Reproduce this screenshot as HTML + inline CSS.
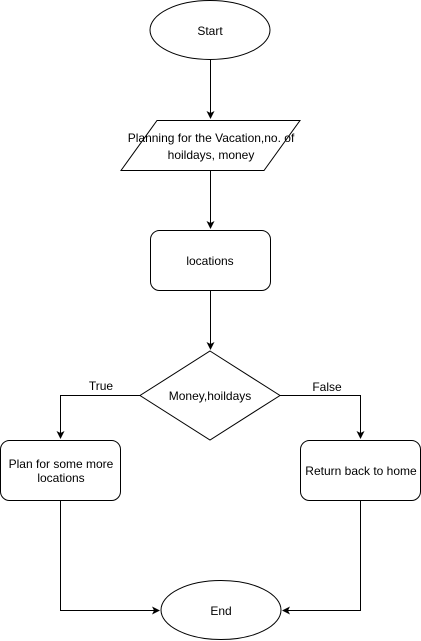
<!DOCTYPE html>
<html><head><style>
html,body{margin:0;padding:0;background:#fff;}
svg{display:block;}
text{font-family:"Liberation Sans",Arial,sans-serif;font-size:12px;fill:#000;}
</style></head><body>
<svg width="421" height="641" viewBox="0 0 421 641" xmlns="http://www.w3.org/2000/svg">
<defs><marker id="a" markerWidth="10" markerHeight="10" refX="7" refY="4" orient="auto" markerUnits="userSpaceOnUse"><path d="M0,0 L8,4 L0,8 L2,4 Z" fill="#000"/></marker></defs>
<g fill="#fff" stroke="#000" stroke-width="1">
<ellipse cx="210" cy="30" rx="60" ry="29.5"/>
<polygon points="157,120.5 300,120.5 264,170.5 121,170.5"/>
<rect x="150.5" y="230.5" width="120" height="60" rx="9"/>
<polygon points="210,351 280,395.5 210,440 140,395.5"/>
<rect x="0.5" y="440.5" width="120" height="60" rx="9"/>
<rect x="300.5" y="440.5" width="120" height="60" rx="9"/>
<ellipse cx="221" cy="610" rx="60" ry="29.5"/>
</g>
<g fill="none" stroke="#000" stroke-width="1">
<path d="M210.5,60 V118" marker-end="url(#a)"/>
<path d="M210.5,171 V228" marker-end="url(#a)"/>
<path d="M210.5,291 V349" marker-end="url(#a)"/>
<path d="M140,395.5 H60.5 V438" marker-end="url(#a)"/>
<path d="M280,395.5 H360.5 V438" marker-end="url(#a)"/>
<path d="M60.5,501 V610.5 H159" marker-end="url(#a)"/>
<path d="M360.5,501 V610.5 H283" marker-end="url(#a)"/>
</g>
<text x="210" y="35" text-anchor="middle">Start</text>
<text x="211" y="142" text-anchor="middle">Planning for the Vacation,no. of</text>
<text x="211" y="159" text-anchor="middle">hoildays, money</text>
<text x="210" y="265" text-anchor="middle">locations</text>
<text x="210" y="400" text-anchor="middle">Money,hoildays</text>
<text x="101" y="390" text-anchor="middle">True</text>
<text x="327" y="391" text-anchor="middle">False</text>
<text x="61" y="468" text-anchor="middle">Plan for some more</text>
<text x="61" y="482" text-anchor="middle">locations</text>
<text x="361" y="475" text-anchor="middle">Return back to home</text>
<text x="221" y="615" text-anchor="middle">End</text>
</svg>
</body></html>
